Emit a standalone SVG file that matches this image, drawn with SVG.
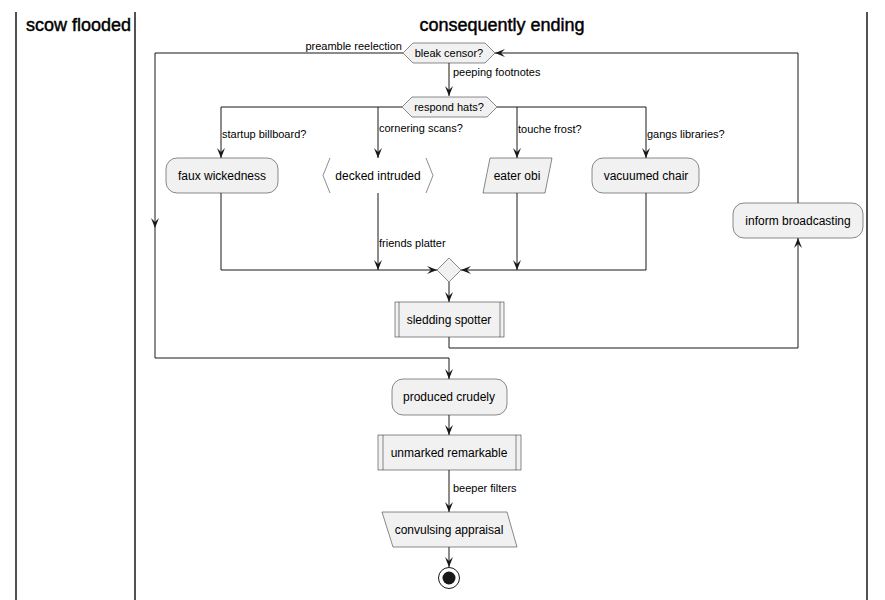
<svg xmlns="http://www.w3.org/2000/svg" width="885" height="600" viewBox="0 0 885 600">
<defs>
<style>
.lane{stroke:#181818;stroke-width:1.5;fill:none}
.ttl{font-family:"Liberation Sans",Arial,sans-serif;font-size:18px;fill:#000;stroke:#000;stroke-width:0.45}
.node{fill:#F1F1F1;stroke:#181818;stroke-width:0.5}
.txt{font-family:"Liberation Sans",Arial,sans-serif;font-size:12px;fill:#000;text-anchor:middle}
.lbl{font-family:"Liberation Sans",Arial,sans-serif;font-size:11px;fill:#000}
.ln{fill:none;stroke:#181818;stroke-width:1}
</style>
<marker id="ah" viewBox="0 0 10 10" refX="10" refY="5" markerWidth="10" markerHeight="10" markerUnits="userSpaceOnUse" orient="auto">
<path d="M10,5 L0,1 L4,5 L0,9 Z" fill="#181818"/>
</marker>
</defs>
<g id="lanes">
<line class="lane" x1="16" y1="12" x2="16" y2="600"/>
<line class="lane" x1="135" y1="12" x2="135" y2="600"/>
<line class="lane" x1="867" y1="12" x2="867" y2="600"/>
<text class="ttl" x="26" y="31">scow flooded</text>
<text class="ttl" x="502" y="31" text-anchor="middle">consequently ending</text>
</g>
<g id="connectors">
<path class="ln" d="M798,203 L798,53 L495,53" marker-end="url(#ah)"/>
<path class="ln" d="M403,53 L155,53 L155,228" marker-end="url(#ah)"/>
<path class="ln" d="M155,228 L155,358 L449,358 L449,379" marker-end="url(#ah)"/>
<path class="ln" d="M449,63 L449,96" marker-end="url(#ah)"/>
<path class="ln" d="M402,107 L221,107 L221,158" marker-end="url(#ah)"/>
<path class="ln" d="M378,107 L378,158" marker-end="url(#ah)"/>
<path class="ln" d="M497,107 L646,107 L646,158" marker-end="url(#ah)"/>
<path class="ln" d="M517,107 L517,158" marker-end="url(#ah)"/>
<path class="ln" d="M221,193 L221,270 L437,270" marker-end="url(#ah)"/>
<path class="ln" d="M378,193 L378,270" marker-end="url(#ah)"/>
<path class="ln" d="M517,193 L517,270" marker-end="url(#ah)"/>
<path class="ln" d="M646,193 L646,270 L461,270" marker-end="url(#ah)"/>
<path class="ln" d="M449,282 L449,302" marker-end="url(#ah)"/>
<path class="ln" d="M449,337 L449,348 L798,348 L798,238" marker-end="url(#ah)"/>
<path class="ln" d="M449,415 L449,435" marker-end="url(#ah)"/>
<path class="ln" d="M449,470 L449,512" marker-end="url(#ah)"/>
<path class="ln" d="M449,547 L449,567" marker-end="url(#ah)"/>
<text class="lbl" x="402" y="50" text-anchor="end">preamble reelection</text>
<text class="lbl" x="453" y="76">peeping footnotes</text>
<text class="lbl" x="222" y="138">startup billboard?</text>
<text class="lbl" x="379" y="132">cornering scans?</text>
<text class="lbl" x="518" y="133">touche frost?</text>
<text class="lbl" x="647" y="138">gangs libraries?</text>
<text class="lbl" x="379" y="247">friends platter</text>
<text class="lbl" x="453" y="492">beeper filters</text>
</g>
<g id="bleak-censor">
<polygon class="node" points="403,53 413,43 485,43 495,53 485,63 413,63"/>
<text class="txt" x="449" y="57" style="font-size:11px">bleak censor?</text>
</g>
<g id="respond-hats">
<polygon class="node" points="402,107 412,97 487,97 497,107 487,117 412,117"/>
<text class="txt" x="449" y="111" style="font-size:11px">respond hats?</text>
</g>
<g id="faux-wickedness">
<rect class="node" x="166" y="158" width="112" height="35" rx="11"/>
<text class="txt" x="222" y="180">faux wickedness</text>
</g>
<g id="decked-intruded">
<polyline class="node" style="fill:none" points="330,158 323,175.5 330,193"/>
<polyline class="node" style="fill:none" points="426,158 433,175.5 426,193"/>
<text class="txt" x="378" y="180">decked intruded</text>
</g>
<g id="eater-obi">
<polygon class="node" points="490,158 552,158 545,193 483,193"/>
<text class="txt" x="517" y="180">eater obi</text>
</g>
<g id="vacuumed-chair">
<rect class="node" x="592" y="158" width="107" height="35" rx="11"/>
<text class="txt" x="646" y="180">vacuumed chair</text>
</g>
<g id="inform-broadcasting">
<rect class="node" x="733" y="203" width="130" height="35" rx="11"/>
<text class="txt" x="798" y="225">inform broadcasting</text>
</g>
<g id="merge">
<polygon class="node" points="449,258 461,270 449,282 437,270"/>
</g>
<g id="sledding-spotter">
<rect class="node" x="395" y="302" width="109" height="35"/>
<line class="node" x1="399" y1="302" x2="399" y2="337"/>
<line class="node" x1="500" y1="302" x2="500" y2="337"/>
<text class="txt" x="449" y="324">sledding spotter</text>
</g>
<g id="produced-crudely">
<rect class="node" x="392" y="379" width="115" height="36" rx="11"/>
<text class="txt" x="449" y="401">produced crudely</text>
</g>
<g id="unmarked-remarkable">
<rect class="node" x="378" y="435" width="143" height="35"/>
<line class="node" x1="383" y1="435" x2="383" y2="470"/>
<line class="node" x1="516" y1="435" x2="516" y2="470"/>
<text class="txt" x="449" y="457">unmarked remarkable</text>
</g>
<g id="convulsing-appraisal">
<polygon class="node" points="382,512 507,512 517,547 393,547"/>
<text class="txt" x="449" y="534">convulsing appraisal</text>
</g>
<g id="end">
<circle cx="449" cy="578" r="10.5" fill="none" stroke="#181818" stroke-width="1"/>
<circle cx="449" cy="578" r="6.5" fill="#181818"/>
</g>
</svg>
